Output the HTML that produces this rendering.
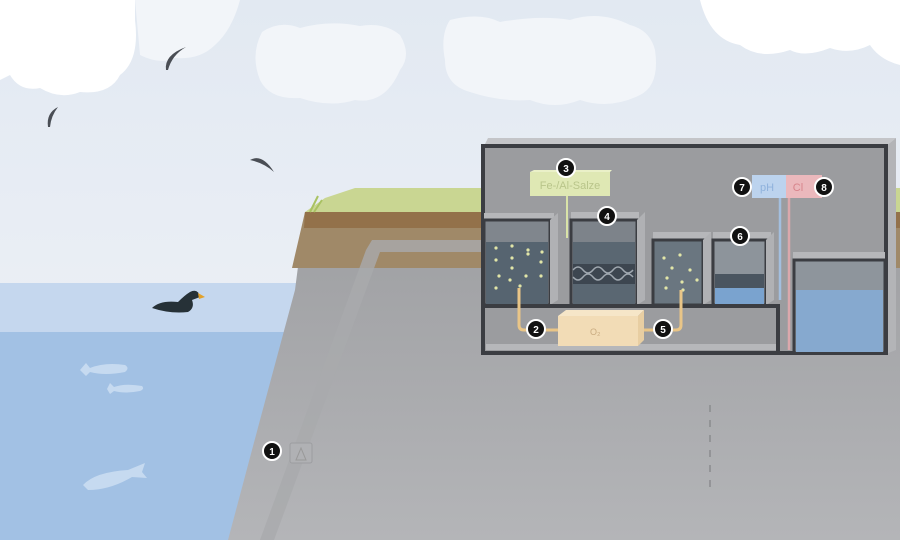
<!DOCTYPE html>
<html><head><meta charset="utf-8"><style>
html,body{margin:0;padding:0;width:900px;height:540px;overflow:hidden;background:#fff}
svg{display:block}
text{font-family:"Liberation Sans",sans-serif}
</style></head><body>
<svg width="900" height="540" viewBox="0 0 900 540" xmlns="http://www.w3.org/2000/svg">
<defs>
<linearGradient id="sky" x1="0" y1="0" x2="0" y2="1">
<stop offset="0" stop-color="#e2e9f2"/><stop offset="0.6" stop-color="#ebeff5"/><stop offset="1" stop-color="#f5f7fa"/>
</linearGradient>
<linearGradient id="rock" x1="0" y1="0" x2="0" y2="1">
<stop offset="0" stop-color="#9e9fa2"/><stop offset="1" stop-color="#b4b5b8"/>
</linearGradient>
</defs>
<rect width="900" height="540" fill="url(#sky)"/>
<!-- clouds -->
<g fill="#ffffff">
<path d="M0 0 H135 V20 Q140 60 120 75 Q110 95 80 92 Q60 100 40 88 Q20 92 10 75 L0 80Z"/>
<path d="M700 0 H900 V65 Q880 60 870 45 Q850 55 830 48 Q805 58 790 50 Q760 60 740 45 Q710 40 700 0Z"/>
</g>
<g fill="#f2f5f9">
<path d="M135 0 H240 Q232 30 215 45 Q200 60 175 58 Q160 65 140 55 Z"/>
<path d="M262 32 Q280 20 300 28 Q330 20 360 26 Q385 22 400 35 Q412 55 400 70 Q385 105 355 100 Q330 108 300 98 Q270 100 260 80 Q250 55 262 32Z"/>
<path d="M450 20 Q480 12 500 22 Q540 15 570 20 Q600 10 630 25 Q650 30 655 50 Q660 85 640 95 Q610 110 580 100 Q555 110 530 100 Q500 102 470 92 Q445 85 445 60 Q440 35 450 20Z"/>
</g>
<!-- birds -->
<g fill="#4a4e55">
<path d="M166 70 Q164 55 186 47 Q172 55 168 70Z"/>
<path d="M48 127 Q46 113 58 107 Q51 116 50 127Z"/>
<path d="M250 160 Q262 153 274 172 Q264 163 250 160Z"/>
</g>
<!-- water -->
<rect x="0" y="283" width="310" height="257" fill="#c5d7ee"/>
<rect x="0" y="332" width="310" height="208" fill="#a2c1e4"/>
<!-- duck -->
<path d="M152 308 Q160 300 178 302 Q185 295 190 292 Q198 288 200 297 L192 300 Q195 308 188 312 Q170 314 152 308Z" fill="#263137"/>
<path d="M198 293 L205 297 L199 299Z" fill="#e2a12a"/>
<!-- fish -->
<g fill="#c6daf0">
<path d="M80 370 L86 363 L90 368 Q105 362 125 365 Q130 368 125 372 Q105 376 90 372 L86 376Z"/>
<path d="M107 389 L110 383 L114 387 Q125 383 142 386 Q145 389 140 391 Q125 394 114 391 L110 394Z"/>
<path d="M83 485 Q95 472 128 470 L145 463 L142 472 L147 478 L132 477 Q110 490 88 490Z"/>
</g>
<!-- land/cliff -->
<polygon points="305,212 900,212 900,540 228,540 260,420 295,290" fill="url(#rock)"/>
<polygon points="305,212 900,212 900,268 292,268" fill="#a08968"/>
<polygon points="305,212 900,212 900,228 304,228" fill="#93714a"/>
<polygon points="305,212 325,198 355,188 900,188 900,212" fill="#c9d692"/>
<path d="M310 212 L318 196 M314 212 L322 200" stroke="#a9c262" stroke-width="2"/>
<!-- pipe -->
<polygon points="372,240 484,240 484,252 380,252 274,540 260,540 366,250" fill="#a9aaad" opacity="0.8"/>
<rect x="290" y="443" width="22" height="20" rx="2" fill="#b0b1b4" stroke="#9c9da0"/>
<path d="M296 460 L301 448 L306 460Z" fill="none" stroke="#999" stroke-width="1"/>
<!-- dashed line -->
<line x1="710" y1="405" x2="710" y2="492" stroke="#8a8b8e" stroke-width="1.5" stroke-dasharray="7,8"/>
<!-- building -->
<polygon points="484,146 488,138 896,138 886,146" fill="#c4c5c8"/>
<polygon points="886,146 896,138 896,350 886,354" fill="#b3b4b7"/>
<rect x="483" y="146" width="403" height="207" fill="#9b9c9f" stroke="#3b3d42" stroke-width="4"/>
<!-- tank1 -->
<rect x="484" y="213" width="70" height="9" fill="#b6b7ba"/>
<rect x="484" y="220" width="66" height="85" fill="#80868d" stroke="#3b3d42" stroke-width="3"/>
<rect x="486" y="242" width="62" height="62" fill="#566470"/>
<polygon points="550,220 558,213 558,300 550,305" fill="#b0b1b4"/>
<!-- tank2 -->
<rect x="571" y="212" width="68" height="9" fill="#b6b7ba"/>
<rect x="571" y="220" width="66" height="85" fill="#7d838a" stroke="#3b3d42" stroke-width="3"/>
<rect x="573" y="242" width="62" height="62" fill="#5a6772"/>
<rect x="573" y="264" width="62" height="20" fill="#3d4650"/>
<path d="M573 270 q5 -6 10 0 t10 0 t10 0 t10 0 t10 0 t10 0" stroke="#a0a8b0" fill="none" stroke-width="1.5"/>
<path d="M573 277 q5 6 10 0 t10 0 t10 0 t10 0 t10 0 t10 0" stroke="#a0a8b0" fill="none" stroke-width="1.5"/>
<polygon points="637,220 645,212 645,300 637,305" fill="#b0b1b4"/>
<!-- tank3 -->
<rect x="653" y="232" width="58" height="9" fill="#b6b7ba"/>
<rect x="653" y="240" width="50" height="65" fill="#6a7680" stroke="#3b3d42" stroke-width="3"/>
<polygon points="703,240 711,232 711,300 703,305" fill="#b0b1b4"/>
<!-- tank4 -->
<rect x="713" y="232" width="58" height="9" fill="#b6b7ba"/>
<rect x="713" y="240" width="53" height="65" fill="#8d949b" stroke="#3b3d42" stroke-width="3"/>
<rect x="715" y="274" width="49" height="14" fill="#4a5560"/>
<rect x="715" y="288" width="49" height="16" fill="#7aa3cf"/>
<polygon points="766,240 774,232 774,300 766,305" fill="#b0b1b4"/>
<!-- bubbles -->
<g fill="#e2e6a8">
<circle cx="496" cy="248" r="1.6"/><circle cx="512" cy="246" r="1.6"/><circle cx="528" cy="250" r="1.6"/><circle cx="542" cy="252" r="1.6"/>
<circle cx="496" cy="260" r="1.6"/><circle cx="512" cy="258" r="1.6"/><circle cx="528" cy="254" r="1.6"/><circle cx="541" cy="262" r="1.6"/>
<circle cx="512" cy="268" r="1.6"/><circle cx="499" cy="276" r="1.6"/><circle cx="526" cy="276" r="1.6"/><circle cx="541" cy="276" r="1.6"/>
<circle cx="510" cy="280" r="1.6"/><circle cx="496" cy="288" r="1.6"/><circle cx="520" cy="286" r="1.6"/>
<circle cx="664" cy="258" r="1.6"/><circle cx="680" cy="255" r="1.6"/><circle cx="672" cy="268" r="1.6"/><circle cx="690" cy="270" r="1.6"/>
<circle cx="667" cy="278" r="1.6"/><circle cx="682" cy="282" r="1.6"/><circle cx="697" cy="280" r="1.6"/><circle cx="666" cy="288" r="1.6"/><circle cx="683" cy="290" r="1.6"/>
</g>
<!-- floor and lower chamber -->
<rect x="484" y="304" width="296" height="4" fill="#3b3d42"/>
<rect x="776" y="304" width="4" height="50" fill="#3b3d42"/>
<rect x="486" y="344" width="290" height="6" fill="#b6b7ba"/>
<!-- tank5 -->
<rect x="793" y="252" width="92" height="9" fill="#b6b7ba"/>
<rect x="794" y="260" width="91" height="93" fill="#8e959c" stroke="#3b3d42" stroke-width="3"/>
<rect x="796" y="290" width="87" height="62" fill="#86a9cf"/>
<!-- sensor lines -->
<line x1="780" y1="198" x2="780" y2="300" stroke="#a3bfdf" stroke-width="2.5"/>
<line x1="789" y1="198" x2="789" y2="350" stroke="#dba8ac" stroke-width="2.5"/>
<!-- Fe box -->
<line x1="567" y1="196" x2="567" y2="238" stroke="#d9e3a8" stroke-width="2"/>
<rect x="530" y="172" width="80" height="24" fill="#dfe8b4"/>
<polygon points="530,172 534,170 612,170 610,172" fill="#eaf0c8"/>
<text x="570" y="189" text-anchor="middle" font-size="11" fill="#b9c58a">Fe-/Al-Salze</text>
<!-- pH Cl -->
<rect x="752" y="175" width="34" height="23" fill="#bcd3ee"/>
<text x="767" y="191" text-anchor="middle" font-size="11" fill="#8fb2dc">pH</text>
<rect x="786" y="175" width="36" height="23" fill="#ebb8bc"/>
<text x="798" y="191" text-anchor="middle" font-size="11" fill="#d7848b">Cl</text>
<!-- O2 pipes -->
<path d="M519 288 V325 Q519 330 524 330 H560" stroke="#e9c587" stroke-width="3" fill="none"/>
<path d="M636 330 H676 Q681 330 681 325 V290" stroke="#e9c587" stroke-width="3" fill="none"/>
<rect x="558" y="316" width="80" height="30" fill="#f2dcb6"/>
<polygon points="558,316 566,310 644,310 638,316" fill="#f6e6c8"/>
<polygon points="638,316 644,310 644,340 638,346" fill="#e8cea2"/>
<text x="590" y="335" font-size="9" fill="#c9ab80">O₂</text>
<!-- number badges -->
<g font-size="10" font-weight="bold" fill="#fff" text-anchor="middle">
<g><circle cx="272" cy="451" r="9" fill="#111" stroke="#fff" stroke-width="2"/><text x="272" y="455">1</text></g>
<g><circle cx="536" cy="329" r="9" fill="#111" stroke="#fff" stroke-width="2"/><text x="536" y="333">2</text></g>
<g><circle cx="566" cy="168" r="9" fill="#111" stroke="#fff" stroke-width="2"/><text x="566" y="172">3</text></g>
<g><circle cx="607" cy="216" r="9" fill="#111" stroke="#fff" stroke-width="2"/><text x="607" y="220">4</text></g>
<g><circle cx="663" cy="329" r="9" fill="#111" stroke="#fff" stroke-width="2"/><text x="663" y="333">5</text></g>
<g><circle cx="740" cy="236" r="9" fill="#111" stroke="#fff" stroke-width="2"/><text x="740" y="240">6</text></g>
<g><circle cx="742" cy="187" r="9" fill="#111" stroke="#fff" stroke-width="2"/><text x="742" y="191">7</text></g>
<g><circle cx="824" cy="187" r="9" fill="#111" stroke="#fff" stroke-width="2"/><text x="824" y="191">8</text></g>
</g>
</svg>
</body></html>
